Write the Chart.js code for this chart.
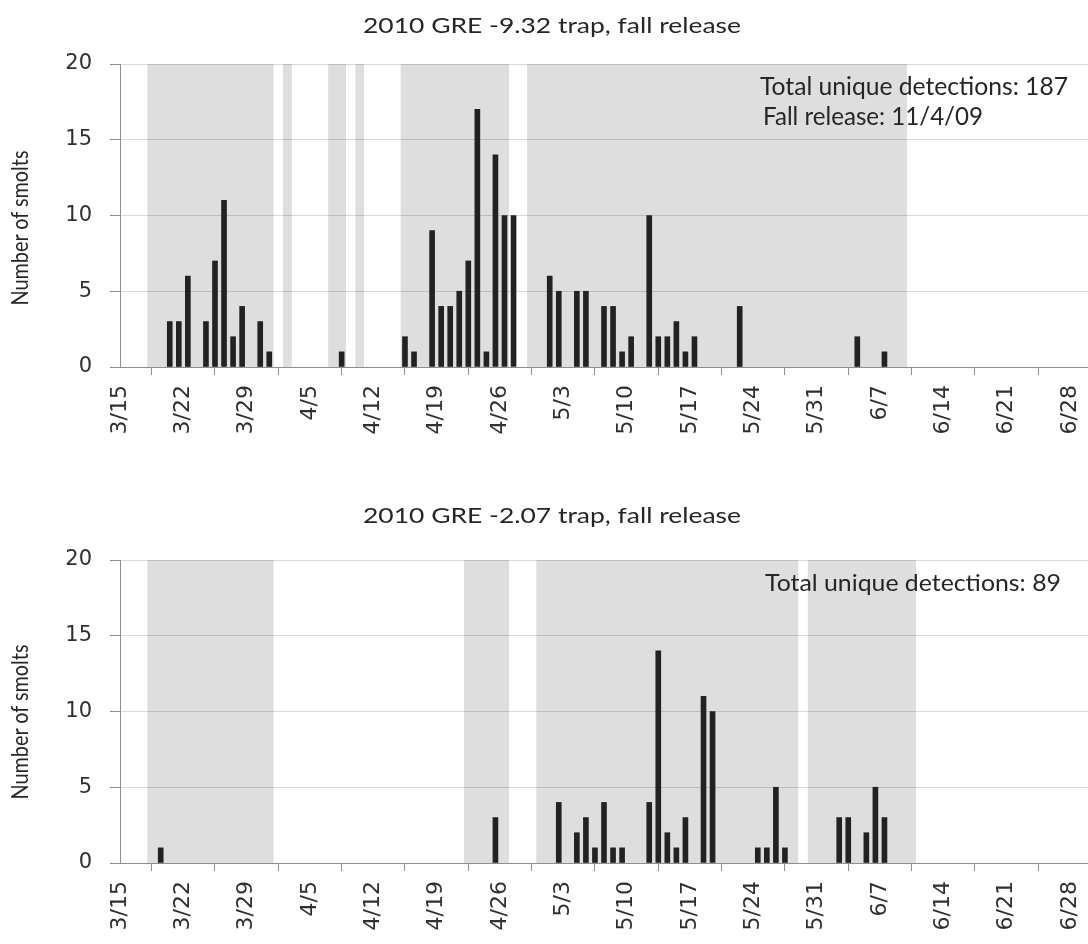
<!DOCTYPE html>
<html><head><meta charset="utf-8">
<script src="https://cdn.jsdelivr.net/npm/chart.js@4/dist/chart.umd.min.js"></script>
<style>
html,body{margin:0;padding:0;background:#fff;}
#wrap{position:relative;width:1088px;height:944px;overflow:hidden;}
canvas{position:absolute;left:0;}
.txt{position:absolute;white-space:nowrap;font-family:Lato,'Open Sans',sans-serif;color:#262626;line-height:1;transform-origin:0 0;}
</style></head><body>
<div id="wrap">
<canvas id="c1" width="1088" height="450" style="top:0px"></canvas>
<canvas id="c2" width="1088" height="474" style="top:470px"></canvas>
</div>
<script>
// ---- data ----
const axisStart = '3/15';
const axisEnd = '6/30';
const tickLabels = ['3/15','3/22','3/29','4/5','4/12','4/19','4/26','5/3','5/10','5/17','5/24','5/31','6/7','6/14','6/21','6/28'];
const yMax = 20;
const yStep = 5;
const yAxisTitle = 'Number of smolts';

const topTitle = '2010 GRE -9.32 trap, fall release';
const topDates  = ['3/20','3/21','3/22','3/24','3/25','3/26','3/27','3/28','3/30','3/31','4/8','4/15','4/16','4/18','4/19','4/20','4/21','4/22','4/23','4/24','4/25','4/26','4/27','5/1','5/2','5/4','5/5','5/7','5/8','5/9','5/10','5/12','5/13','5/14','5/15','5/16','5/17','5/22','6/4','6/7'];
const topCounts = [3,3,6,3,7,11,2,4,3,1,1,2,1,9,4,4,5,7,17,1,14,10,10,6,5,5,5,4,4,1,2,10,2,2,3,1,2,4,2,1];
const topTrapRanges = [['3/18','3/31'],['4/2','4/2'],['4/7','4/8'],['4/10','4/10'],['4/15','4/26'],['4/29','6/9']];
const topNotes = ['Total unique detections: 187','Fall release: 11/4/09'];

const bottomTitle = '2010 GRE -2.07 trap, fall release';
const bottomDates  = ['3/19','4/25','5/2','5/4','5/5','5/6','5/7','5/8','5/9','5/12','5/13','5/14','5/15','5/16','5/18','5/19','5/24','5/25','5/26','5/27','6/2','6/3','6/5','6/6','6/7'];
const bottomCounts = [1,3,4,2,3,1,4,1,1,4,14,2,1,3,11,10,1,1,5,1,3,3,2,5,3];
const bottomTrapRanges = [['3/18','3/31'],['4/22','4/26'],['4/30','5/28'],['5/30','6/10']];
const bottomNotes = ['Total unique detections: 89'];

// ---- helpers ----
function dayIndex(s){
  const [m,d] = s.split('/').map(Number);
  const [m0,d0] = axisStart.split('/').map(Number);
  return Math.round((Date.UTC(2010,m-1,d) - Date.UTC(2010,m0-1,d0)) / 86400000);
}

const yTickFont = {family:"'DejaVu Sans', sans-serif", size:21};
const xTickFont = {family:"'DejaVu Sans', sans-serif", size:22};

function buildChart(canvasId, dates, counts, ranges, geom){
  const datasets = [{
    type:'bar', label:'Smolts',
    data: dates.map((d,i)=>({x: dayIndex(d)+0.5, y: counts[i]})),
    backgroundColor:'#222222', borderWidth:0, barThickness:5, order:0
  }];
  ranges.forEach((r,i)=>{
    datasets.push({
      type:'line', label:'Trap operating '+(i+1),
      data:[{x:dayIndex(r[0]), y:yMax},{x:dayIndex(r[1])+1, y:yMax}],
      fill:'origin', backgroundColor:'rgba(0,0,0,0.13)',
      borderColor:'transparent', borderWidth:0, pointRadius:0, order:1
    });
  });
  return new Chart(document.getElementById(canvasId), {
    type:'bar',
    data:{datasets},
    options:{
      responsive:false, animation:false, devicePixelRatio:1,
      layout:{padding:{top:geom.padTop,left:0,right:0,bottom:0}},
      plugins:{legend:{display:false},tooltip:{enabled:false},title:{display:false}},
      scales:{
        x:{
          type:'linear', min:0, max:dayIndex(axisEnd), offset:false,
          afterFit:s=>{s.height=geom.xHeight; s.paddingLeft=0; s.paddingRight=0;},
          afterBuildTicks:s=>{s.ticks = tickLabels.map(l=>({value:dayIndex(l)}));},
          ticks:{autoSkip:false,minRotation:90,maxRotation:90,padding:10,color:'#303030',
            font:xTickFont,
            callback:(v)=>{const i=tickLabels.findIndex(l=>dayIndex(l)===v);return i>=0?tickLabels[i]:'';}},
          grid:{drawOnChartArea:false,drawTicks:true,tickLength:8,tickColor:'#8e8e8e',color:'#8e8e8e'},
          border:{display:true,color:'#8e8e8e',width:1}
        },
        y:{
          min:0,max:yMax,
          afterFit:s=>{s.width=120; s.paddingTop=0; s.paddingBottom=0;},
          ticks:{stepSize:yStep,padding:18,color:'#303030',font:yTickFont},
          grid:{color:'#d9d9d9',tickColor:'#8e8e8e',tickLength:10,drawTicks:true},
          border:{display:true,color:'#8e8e8e',width:1}
        }
      }
    }
  });
}

buildChart('c1', topDates, topCounts, topTrapRanges, {padTop:64, xHeight:83});
buildChart('c2', bottomDates, bottomCounts, bottomTrapRanges, {padTop:90, xHeight:81});

// ---- text ----
const wrap = document.getElementById('wrap');
function placeText(text, o){
  const el = document.createElement('div');
  el.className = 'txt';
  el.textContent = text;
  el.style.fontSize = o.size + 'px';
  wrap.appendChild(el);
  const w = el.getBoundingClientRect().width;
  const s = o.width / w;
  if (o.rotate){
    el.style.left = o.cx + 'px';
    el.style.top = o.cy + 'px';
    el.style.transform = 'rotate(-90deg) scaleX(' + s + ') translate(-50%,-50%)';
  } else {
    el.style.left = o.left + 'px';
    el.style.top = o.top + 'px';
    el.style.transform = 'scaleX(' + s + ')';
  }
}
placeText(topTitle,   {left:363, top:13.5, width:378, size:22});
placeText(bottomTitle,{left:363, top:504,  width:378, size:22});
placeText(topNotes[0],{left:760, top:73.5, width:308, size:24.5});
placeText(topNotes[1],{left:763, top:103.5,width:220, size:24.5});
placeText(bottomNotes[0],{left:765, top:569.5, width:296, size:24});
placeText(yAxisTitle, {rotate:true, cx:19, cy:228, width:155, size:24});
placeText(yAxisTitle, {rotate:true, cx:19, cy:722, width:155, size:24});
</script>
</body></html>
